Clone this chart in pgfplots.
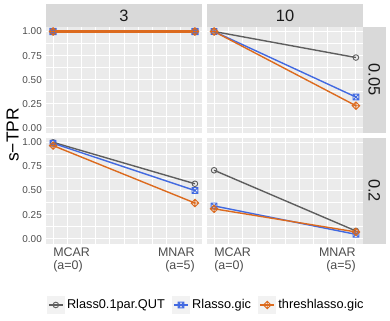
\documentclass[border=0pt]{standalone}
\usepackage{fontspec}
\setmainfont{Liberation Sans}
\usepackage{pgfplots}
\pgfplotsset{compat=1.18}

\definecolor{panelbg}{HTML}{EBEBEB}
\definecolor{stripbg}{HTML}{D9D9D9}
\definecolor{keybg}{HTML}{F2F2F2}
\definecolor{tickgray}{HTML}{4D4D4D}
\definecolor{stripfg}{HTML}{1A1A1A}
\definecolor{cgray}{HTML}{5E5E5E}
\definecolor{cblue}{HTML}{4169E1}
\definecolor{corange}{HTML}{DC6A1E}

% square with a cross, diamond with a plus (ggplot shapes 7 and 9)
\pgfdeclareplotmark{sqx}{%
  \pgfpathrectangle{\pgfpoint{-\pgfplotmarksize}{-\pgfplotmarksize}}{\pgfpoint{2\pgfplotmarksize}{2\pgfplotmarksize}}%
  \pgfpathmoveto{\pgfpoint{-\pgfplotmarksize}{-\pgfplotmarksize}}%
  \pgfpathlineto{\pgfpoint{\pgfplotmarksize}{\pgfplotmarksize}}%
  \pgfpathmoveto{\pgfpoint{-\pgfplotmarksize}{\pgfplotmarksize}}%
  \pgfpathlineto{\pgfpoint{\pgfplotmarksize}{-\pgfplotmarksize}}%
  \pgfusepathqstroke}
\pgfdeclareplotmark{dplus}{%
  \pgfpathmoveto{\pgfpoint{0pt}{\pgfplotmarksize}}%
  \pgfpathlineto{\pgfpoint{\pgfplotmarksize}{0pt}}%
  \pgfpathlineto{\pgfpoint{0pt}{-\pgfplotmarksize}}%
  \pgfpathlineto{\pgfpoint{-\pgfplotmarksize}{0pt}}%
  \pgfpathclose%
  \pgfpathmoveto{\pgfpoint{0pt}{\pgfplotmarksize}}%
  \pgfpathlineto{\pgfpoint{0pt}{-\pgfplotmarksize}}%
  \pgfpathmoveto{\pgfpoint{-\pgfplotmarksize}{0pt}}%
  \pgfpathlineto{\pgfpoint{\pgfplotmarksize}{0pt}}%
  \pgfusepathqstroke}

\tikzset{xlab/.style={font=\fontsize{12.5}{12.8}\selectfont, text=tickgray, inner sep=0pt, yshift=-4.5bp}}

\pgfplotsset{
  panel/.style={
    width=156bp, height=106bp, scale only axis,
    anchor=north west, clip=false,
    xmin=-0.25, xmax=5.25, ymin=-0.05, ymax=1.05,
    axis line style={draw=none},
    axis background/.style={fill=panelbg},
    xtick={0,1,2,3,4,5}, minor xtick={0.5,1.5,2.5,3.5,4.5},
    ytick={0,0.25,0.5,0.75,1}, minor ytick={0.125,0.375,0.625,0.875},
    grid=both,
    major grid style={white, line width=1.1bp},
    minor grid style={white, line width=0.55bp},
    major tick length=0pt, minor tick length=0pt,
    xticklabels={}, yticklabels={},
    yticklabel style={font=\fontsize{10}{10}\selectfont, text=tickgray, inner sep=0pt, xshift=-4bp},
  },
  sgray/.style={color=cgray, line width=1.4bp, mark=o, mark size=2.8bp, mark options={line width=0.9bp}},
  sblue/.style={color=cblue, line width=1.4bp, mark=sqx, mark size=2.9bp, mark options={line width=0.9bp}},
  sorange/.style={color=corange, line width=1.4bp, mark=dplus, mark size=3.8bp, mark options={line width=0.9bp}},
}

\begin{document}
\begin{tikzpicture}
\useasboundingbox (0,0) rectangle (390bp,-321bp);

% facet strips
\fill[stripbg] (46bp,-4bp) rectangle (202bp,-26.7bp);
\fill[stripbg] (207bp,-4bp) rectangle (363bp,-26.7bp);
\fill[stripbg] (363bp,-26.7bp) rectangle (385.7bp,-132.7bp);
\fill[stripbg] (363bp,-137.5bp) rectangle (385.7bp,-243.5bp);
\node[text=stripfg, font=\fontsize{16.5}{16.5}\selectfont] at (124bp,-15.35bp) {3};
\node[text=stripfg, font=\fontsize{16.5}{16.5}\selectfont] at (285bp,-15.35bp) {10};
\node[text=stripfg, font=\fontsize{16.5}{16.5}\selectfont, rotate=-90] at (374.3bp,-79.7bp) {0.05};
\node[text=stripfg, font=\fontsize{16.5}{16.5}\selectfont, rotate=-90] at (374.3bp,-190.5bp) {0.2};

\node[font=\fontsize{17.5}{17.5}\selectfont, rotate=90] at (12.7bp,-135bp) {s−TPR};

% top left: 3 / 0.05 (all three series coincide at 1; the orange one lies on top)
\begin{axis}[panel, at={(46bp,-26.7bp)}, yticklabels={0.00,0.25,0.50,0.75,1.00}]
\addplot[sgray, draw=none, mark options={draw=cgray}] coordinates {(0,1) (5,1)};
\addplot[sblue, draw=none, mark options={draw=cblue}] coordinates {(0,1) (5,1)};
\addplot[sorange, draw=corange, line width=2.2bp] coordinates {(0,1) (5,1)};
\end{axis}

% top right: 10 / 0.05
\begin{axis}[panel, at={(207bp,-26.7bp)}]
\addplot[sgray] coordinates {(0,1) (5,0.73)};
\addplot[sblue] coordinates {(0,1) (5,0.32)};
\addplot[sorange] coordinates {(0,1) (5,0.23)};
\end{axis}

% bottom left: 3 / 0.2
\begin{axis}[panel, at={(46bp,-137.5bp)}, yticklabels={0.00,0.25,0.50,0.75,1.00},
  legend columns=3,
  legend style={at={(1.026,-0.58)}, anchor=center, draw=none, fill=none,
    font=\fontsize{12.8}{12.8}\selectfont,
    /tikz/every even column/.append style={column sep=5bp}},
  legend image code/.code={%
    \fill[keybg] (0bp,-8.5bp) rectangle (17bp,8.5bp);
    \draw[mark repeat=2, mark phase=2, #1] plot coordinates {(1.5bp,0bp) (8.5bp,0bp) (15.5bp,0bp)};}]
\addplot[sgray] coordinates {(0,1) (5,0.57)};
\addplot[sblue] coordinates {(0,0.99) (5,0.50)};
\addplot[sorange] coordinates {(0,0.966) (5,0.37)};
\legend{Rlass0.1par.QUT, Rlasso.gic, threshlasso.gic}
\node[xlab, anchor=north west, align=left] at (axis cs:0,-0.05) {MCAR\\(a=0)};
\node[xlab, anchor=north east, align=right] at (axis cs:5,-0.05) {MNAR\\(a=5)};
\end{axis}

% bottom right: 10 / 0.2
\begin{axis}[panel, at={(207bp,-137.5bp)}]
\addplot[sgray] coordinates {(0,0.71) (5,0.08)};
\addplot[sblue] coordinates {(0,0.34) (5,0.045)};
\addplot[sorange] coordinates {(0,0.31) (5,0.07)};
\node[xlab, anchor=north west, align=left] at (axis cs:0,-0.05) {MCAR\\(a=0)};
\node[xlab, anchor=north east, align=right] at (axis cs:5,-0.05) {MNAR\\(a=5)};
\end{axis}
\end{tikzpicture}
\end{document}
